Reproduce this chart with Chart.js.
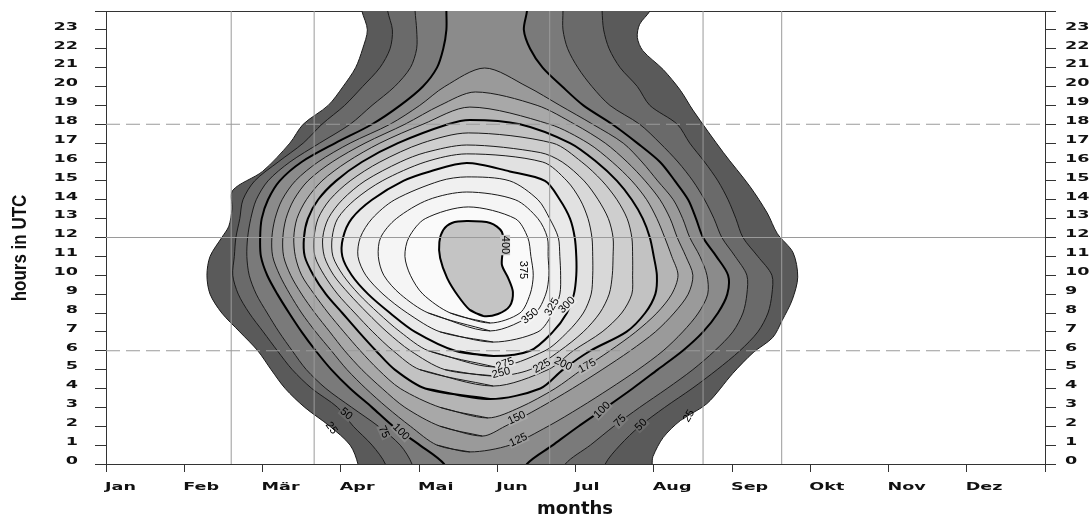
<!DOCTYPE html>
<html>
<head>
<meta charset="utf-8">
<script src="https://cdn.jsdelivr.net/npm/chart.js@4.4.0/dist/chart.umd.min.js"></script>
<style>
  html, body { margin: 0; padding: 0; background: #fff; }
  #wrap { width: 1090px; height: 518px; }
</style>
</head>
<body>
<div id="wrap"><canvas id="chart"></canvas></div>
<script>
// axis labels
const monthLabels = ["Jan", "Feb", "Mär", "Apr", "Mai", "Jun", "Jul", "Aug", "Sep", "Okt", "Nov", "Dez"];
const hourTicks = [0, 1, 2, 3, 4, 5, 6, 7, 8, 9, 10, 11, 12, 13, 14, 15, 16, 17, 18, 19, 20, 21, 22, 23];

// reference lines (months / hours)
const refMonths = [1.6, 2.66, 5.67, 7.63, 8.635];
const refHoursSolid = [12];
const refHoursDashed = [6, 18];

// contour levels and band shades
const levels = [25, 50, 75, 100, 125, 150, 175, 200, 225, 250, 275, 300, 325, 350, 375, 400];
const bandColors = ["#5a5a5a", "#6a6a6a", "#7a7a7a", "#8b8b8b", "#9a9a9a", "#a8a8a8", "#b5b5b5", "#c2c2c2",
                    "#cecece", "#d8d8d8", "#e1e1e1", "#e9e9e9", "#f0f0f0", "#f5f5f5", "#fafafa", "#c4c4c4"];
const thickLevels = [100, 200, 300, 400];

// open contours (reach below 0 h and above 24 h), [month, hour]
const lvl25 = [[3.22,-0.6],[3.22,0],[3.12,1],[2.86,2],[2.54,3],[2.29,4],[2.11,5],[1.94,6],[1.71,7],[1.48,8],[1.33,9],[1.29,10],[1.33,11],[1.48,12],[1.57,12.6],[1.61,13.5],[1.62,14.5],[2.00,15.5],[2.35,17],[2.52,18],[2.84,19],[3.03,20],[3.19,21],[3.28,22],[3.34,23],[3.27,24],[3.25,24.6],
  [6.98,24.6],[6.95,24],[6.82,23.3],[6.79,22.6],[6.86,21.9],[7.12,20.9],[7.34,19.8],[7.50,18.75],[7.89,16.5],[8.23,14.7],[8.45,13.3],[8.58,12.2],[8.78,11.2],[8.84,9.9],[8.77,8.7],[8.64,7.6],[8.52,6.7],[8.27,5.9],[8.01,4.8],[7.68,3.2],[7.34,2.3],[7.12,1.4],[6.99,0.4],[6.98,0],[6.98,-0.6]];
const lvl50 = [[3.57,-0.6],[3.57,0],[3.40,1],[3.16,2],[2.96,3],[2.63,4],[2.38,5],[2.19,6],[2.01,7],[1.83,8],[1.69,9],[1.62,10],[1.64,11],[1.66,12],[1.71,13],[1.75,14],[1.90,15],[2.20,16],[2.52,17],[2.76,18],[3.05,19],[3.28,20],[3.50,21],[3.63,22],[3.66,23],[3.60,24],[3.60,24.6],
  [6.34,24.6],[6.34,24],[6.36,23],[6.43,22],[6.57,21],[6.79,20],[6.95,19],[7.30,18],[7.46,17],[7.65,16],[7.82,15],[7.95,14],[8.05,13],[8.14,12],[8.33,11],[8.51,10],[8.51,9],[8.46,8],[8.33,7],[8.10,6],[7.81,5],[7.49,4],[7.14,3],[6.82,2],[6.57,1],[6.38,0],[6.38,-0.6]];
const lvl75 = [[3.91,-0.6],[3.91,0],[3.76,1],[3.48,2],[3.14,3],[2.81,4],[2.56,5],[2.38,6],[2.21,7],[2.06,8],[1.92,9],[1.83,10],[1.80,11],[1.81,12],[1.85,13],[1.92,14],[2.07,15],[2.35,16],[2.73,17],[3.12,18],[3.40,19],[3.69,20],[3.89,21],[3.97,22],[3.97,23],[3.95,24],[3.95,24.6],
  [5.84,24.6],[5.84,24],[5.84,23],[5.90,22],[6.03,21],[6.21,20],[6.44,19],[6.82,18],[7.08,17],[7.31,16],[7.50,15],[7.65,14],[7.77,13],[7.87,12],[8.04,11],[8.19,10],[8.19,9],[8.14,8],[8.01,7],[7.78,6],[7.50,5],[7.17,4],[6.82,3],[6.49,2],[6.19,1],[5.87,0],[5.87,-0.6]];
const lvl100 = [[4.32,-0.6],[4.32,0],[4.01,1],[3.67,2],[3.40,3],[3.12,4],[2.88,5],[2.68,6],[2.50,7],[2.34,8],[2.19,9],[2.06,10],[1.98,11],[1.97,12],[1.99,13],[2.07,14],[2.22,15],[2.50,16],[2.93,17],[3.40,18],[3.76,19],[4.05,20],[4.23,21],[4.31,22],[4.35,23],[4.35,24],[4.35,24.6],
  [5.38,24.6],[5.38,24],[5.34,23],[5.42,22],[5.58,21],[5.83,20],[6.10,19],[6.47,18],[6.79,17],[7.08,16],[7.27,15],[7.44,14],[7.54,13],[7.63,12],[7.80,11],[7.95,10],[7.94,9],[7.82,8],[7.63,7],[7.37,6],[7.05,5],[6.73,4],[6.39,3],[6.04,2],[5.71,1],[5.38,0],[5.38,-0.6]];

// closed contours, bottom -> up the left side -> top -> down the right side
const lvl125 = [[4.65,0.64],[4.23,1],[3.89,2],[3.59,3],[3.32,4],[3.08,5],[2.88,6],[2.68,7],[2.50,8],[2.35,9],[2.22,10],[2.13,11],[2.12,12],[2.16,13],[2.25,14],[2.42,15],[2.71,16],[3.12,17],[3.63,18],[4.01,19],[4.33,20],[4.84,20.98],
  [5.38,20],[5.80,19],[6.22,18],[6.61,17],[6.85,16],[7.05,15],[7.25,14],[7.37,13],[7.46,12],[7.59,11],[7.68,10],[7.69,9],[7.57,8],[7.37,7],[7.12,6],[6.80,5],[6.44,4],[6.06,3],[5.65,2],[5.16,1]];
const lvl150 = [[4.81,1.48],[4.27,2],[3.82,3],[3.53,4],[3.27,5],[3.05,6],[2.86,7],[2.67,8],[2.50,9],[2.36,10],[2.27,11],[2.26,12],[2.30,13],[2.40,14],[2.58,15],[2.89,16],[3.31,17],[3.82,18],[4.27,19],[4.72,19.71],
  [5.51,19],[5.99,18],[6.38,17],[6.66,16],[6.89,15],[7.08,14],[7.21,13],[7.30,12],[7.41,11],[7.50,10],[7.44,9],[7.26,8],[7.02,7],[6.70,6],[6.34,5],[5.96,4],[5.55,3],[5.10,2]];
const lvl175 = [[4.88,2.44],[4.27,3],[3.76,4],[3.48,5],[3.25,6],[3.04,7],[2.84,8],[2.66,9],[2.50,10],[2.42,11],[2.40,12],[2.44,13],[2.56,14],[2.76,15],[3.08,16],[3.50,17],[4.05,18],[4.65,18.91],
  [5.67,18],[6.16,17],[6.47,16],[6.72,15],[6.91,14],[7.04,13],[7.14,12],[7.23,11],[7.31,10],[7.23,9],[7.04,8],[6.77,7],[6.44,6],[6.08,5],[5.74,4],[5.29,3]];
const lvl200 = [[4.91,3.44],[4.08,4],[3.69,5],[3.45,6],[3.23,7],[3.02,8],[2.81,9],[2.65,10],[2.54,11],[2.53,12],[2.58,13],[2.71,14],[2.94,15],[3.27,16],[3.73,17],[4.37,18],[4.65,18.23],
  [5.29,18],[5.93,17],[6.27,16],[6.53,15],[6.72,14],[6.86,13],[6.95,12],[7.00,11],[7.04,10],[7.02,9],[6.89,8],[6.65,7],[6.19,6],[5.84,5],[5.55,4]];
const lvl225 = [[4.95,4.13],[4.01,5],[3.67,6],[3.41,7],[3.18,8],[2.96,9],[2.79,10],[2.67,11],[2.66,12],[2.71,13],[2.86,14],[3.12,15],[3.50,16],[4.04,17],[4.63,17.54],
  [5.71,17],[6.08,16],[6.34,15],[6.53,14],[6.66,13],[6.72,12],[6.73,11],[6.73,10],[6.72,9],[6.59,8],[6.34,7],[5.97,6],[5.65,5]];
const lvl250 = [[4.97,4.66],[4.33,5],[3.89,6],[3.59,7],[3.34,8],[3.11,9],[2.91,10],[2.79,11],[2.77,12],[2.84,13],[3.02,14],[3.31,15],[3.76,16],[4.08,16.5],[4.61,16.9],
  [5.55,16.5],[5.83,16],[6.11,15],[6.29,14],[6.42,13],[6.48,12],[6.48,11],[6.47,10],[6.43,9],[6.31,8],[6.10,7],[5.80,6],[5.42,5]];
const lvl275 = [[4.97,5.14],[4.12,6],[3.76,7],[3.48,8],[3.23,9],[3.03,10],[2.90,11],[2.89,12],[2.96,13],[3.18,14],[3.53,15],[4.08,16],[4.61,16.43],
  [5.58,16],[5.89,15],[6.06,14],[6.16,13],[6.21,12],[6.22,11],[6.22,10],[6.20,9],[6.10,8],[5.90,7],[5.61,6]];
const lvl300 = [[4.95,5.72],[4.46,6],[3.95,7],[3.63,8],[3.35,9],[3.14,10],[3.02,11],[3.03,12],[3.14,13],[3.40,14],[3.80,15],[4.14,15.5],[4.61,15.95],
  [5.16,15.5],[5.61,15],[5.80,14],[5.93,13],[5.99,12],[6.01,11],[6.01,10],[5.98,9],[5.89,8],[5.71,7],[5.42,6]];
const lvl325 = [[4.95,6.46],[4.27,7],[3.85,8],[3.54,9],[3.32,10],[3.22,11],[3.25,12],[3.40,13],[3.69,14],[4.27,15],[4.61,15.21],
  [5.16,15],[5.52,14],[5.67,13],[5.78,12],[5.80,11],[5.81,10],[5.80,9],[5.71,8],[5.52,7]];
const lvl350 = [[4.91,7.05],[4.12,8],[3.76,9],[3.55,10],[3.48,11],[3.51,12],[3.71,13],[4.12,14],[4.61,14.41],
  [5.23,14],[5.52,13],[5.64,12],[5.65,11],[5.66,10],[5.62,9],[5.48,8]];
const lvl375 = [[4.91,7.47],[4.40,8],[4.05,9],[3.89,10],[3.82,11],[3.87,12],[4.08,13],[4.63,13.62],
  [5.23,13],[5.39,12],[5.43,11],[5.46,10],[5.42,9],[5.29,8]];
const lvl400 = [[4.82,7.84],[4.65,8.16],[4.50,8.90],[4.36,9.85],[4.27,10.91],[4.26,11.76],[4.31,12.40],[4.42,12.77],[4.61,12.87],[4.91,12.77],[5.06,12.29],[5.07,11.34],[5.06,10.54],[5.14,9.85],[5.20,9.11],[5.16,8.37],[5.01,7.95]];
const outlines = [lvl25, lvl50, lvl75, lvl100, lvl125, lvl150, lvl175, lvl200, lvl225, lvl250, lvl275, lvl300, lvl325, lvl350, lvl375, lvl400];
const openLevels = [25, 50, 75, 100];

// contour labels: text, month, hour, angle (deg)
const labelText  = ["400", "375", "350", "325", "300", "275", "250", "225", "200", "175", "150", "125", "100", "75", "50", "25", "100", "75", "50", "25"];
const labelMonth = [5.10, 5.33, 5.42, 5.70, 5.89, 5.10, 5.05, 5.57, 5.84, 6.15, 5.25, 5.27, 3.77, 3.55, 3.07, 2.88, 6.34, 6.57, 6.84, 7.45];
const labelHour  = [11.6, 10.28, 7.84, 8.32, 8.42, 5.30, 4.82, 5.19, 5.30, 5.19, 2.44, 1.27, 1.70, 1.70, 2.65, 1.91, 2.86, 2.28, 2.07, 2.54];
const labelAngle = [90, 90, -40, -60, -45, -20, -15, -30, 25, -30, -25, -25, 45, 65, 40, 55, -45, -45, -45, -60];

const toPts = arr => arr.map(p => ({ x: p[0], y: p[1] }));

const datasets = [];
outlines.forEach((outline, i) => {
    const thick = thickLevels.includes(levels[i]);
    // closed outlines run once more over their first two points so the seam stays smooth
    const pts = openLevels.includes(levels[i]) ? toPts(outline) : toPts(outline.concat([outline[0], outline[1]]));
    datasets.push({
        data: pts,
        showLine: true,
        fill: "shape",
        backgroundColor: bandColors[i],
        borderColor: thick ? "#000" : "#1a1a1a",
        borderWidth: thick ? 2 : 1,
        pointRadius: 0,
        tension: 0.3,
        order: 1000 - i
    });
});
refMonths.forEach(m => {
    datasets.push({ data: [{ x: m, y: 0 }, { x: m, y: 24 }], showLine: true, borderColor: "#9a9a9a", borderWidth: 1, pointRadius: 0, order: 1 });
});
refHoursSolid.forEach(h => {
    datasets.push({ data: [{ x: 0, y: h }, { x: 12, y: h }], showLine: true, borderColor: "#9a9a9a", borderWidth: 1, pointRadius: 0, order: 1 });
});
refHoursDashed.forEach(h => {
    datasets.push({ data: [{ x: 0, y: h }, { x: 12, y: h }], showLine: true, borderColor: "#9a9a9a", borderWidth: 1, borderDash: [14, 6], pointRadius: 0, order: 1 });
});

function drawText(ctx, txt, x, y, font, sx, align, rotDeg, baseline) {
    ctx.save();
    ctx.translate(x, y);
    if (rotDeg) ctx.rotate(rotDeg * Math.PI / 180);
    ctx.scale(sx, 1);
    ctx.font = font;
    ctx.textAlign = align;
    ctx.textBaseline = baseline || "middle";
    ctx.fillText(txt, 0, 0);
    ctx.restore();
}

const textPlugin = {
    id: "textPlugin",
    afterDatasetsDraw(chart) {
        const ctx = chart.ctx;
        const xs = chart.scales.x, ys = chart.scales.y;
        const font = "11px 'Liberation Sans'";
        labelText.forEach((t, i) => {
            const x = xs.getPixelForValue(labelMonth[i]), y = ys.getPixelForValue(labelHour[i]);
            const idx = levels.indexOf(Number(t));
            ctx.save();
            ctx.translate(x, y);
            ctx.rotate(labelAngle[i] * Math.PI / 180);
            if (idx > 0) {
                ctx.font = font;
                const w = ctx.measureText(t).width;
                ctx.fillStyle = bandColors[idx];
                ctx.fillRect(-w / 2 - 1, -5, w + 2, 10);
            }
            ctx.restore();
            ctx.fillStyle = "#000";
            drawText(ctx, t, x, y, font, 1.0, "center", labelAngle[i]);
        });
    },
    afterDraw(chart) {
        const ctx = chart.ctx;
        const xs = chart.scales.x, ys = chart.scales.y, area = chart.chartArea;
        ctx.fillStyle = "#111";
        const tickFont = "bold 11px 'DejaVu Sans'";
        monthLabels.forEach((m, i) => {
            drawText(ctx, m, xs.getPixelForValue(i) - 1, 487, tickFont, 1.6, "left", 0);
        });
        hourTicks.forEach(h => {
            const y = ys.getPixelForValue(h) - 3;
            drawText(ctx, String(h), 78, y, tickFont, 1.6, "right", 0);
            drawText(ctx, String(h), area.right + 20, y, tickFont, 1.6, "left", 0);
        });
        drawText(ctx, "months", 575, 514, "bold 17px 'DejaVu Sans'", 1.06, "center", 0, "alphabetic");
        drawText(ctx, "hours in UTC", 20, 248, "bold 20px 'Liberation Sans'", 0.85, "center", -90);
    }
};

const axisColor = "#333";
new Chart(document.getElementById("chart"), {
    type: "scatter",
    data: { datasets },
    options: {
        responsive: true,
        maintainAspectRatio: false,
        animation: false,
        devicePixelRatio: 1,
        layout: { padding: { top: 11, left: 0, right: 0, bottom: 0 } },
        plugins: { legend: { display: false }, tooltip: { enabled: false } },
        scales: {
            x: {
                type: "linear", position: "bottom", min: 0, max: 12,
                ticks: { stepSize: 1, autoSkip: false, callback: () => "" },
                grid: { drawOnChartArea: false, drawTicks: true, tickLength: 8, color: axisColor },
                border: { color: axisColor },
                afterFit: s => { s.height = 54; }
            },
            xTop: {
                type: "linear", position: "top", min: 0, max: 12,
                ticks: { display: false },
                grid: { display: false },
                border: { color: axisColor },
                afterFit: s => { s.height = 0; }
            },
            y: {
                type: "linear", position: "left", min: 0, max: 24,
                ticks: { stepSize: 1, autoSkip: false, callback: () => "" },
                grid: { drawOnChartArea: false, tickLength: 11, color: axisColor },
                border: { color: axisColor },
                afterFit: s => { s.width = 106; }
            },
            y2: {
                type: "linear", position: "right", min: 0, max: 24,
                ticks: { stepSize: 1, autoSkip: false, callback: () => "" },
                grid: { drawOnChartArea: false, tickLength: 11, color: axisColor },
                border: { color: axisColor },
                afterFit: s => { s.width = 45; }
            }
        }
    },
    plugins: [textPlugin]
});
</script>
</body>
</html>
